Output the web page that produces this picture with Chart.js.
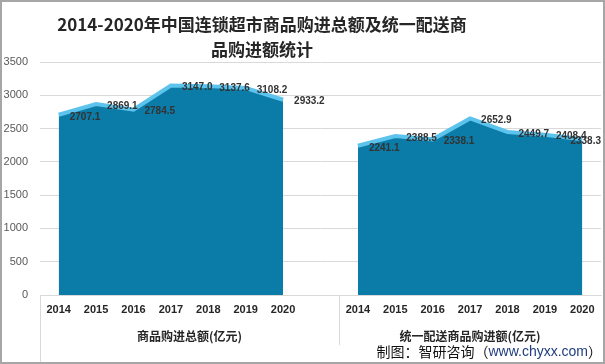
<!DOCTYPE html>
<html>
<head>
<meta charset="utf-8">
<script src="https://cdn.jsdelivr.net/npm/chart.js@4/dist/chart.umd.min.js"></script>
<style>
  html, body { margin: 0; padding: 0; background: #fff; }
  #box { width: 605px; height: 364px; position: relative; }
</style>
</head>
<body>
<div id="box"><canvas id="myChart" width="605" height="364"></canvas></div>
<script>
let years = ["2014", "2015", "2016", "2017", "2018", "2019", "2020"]
let totalPurchase = [2707.1, 2869.1, 2784.5, 3147.0, 3137.6, 3108.2, 2933.2]
let unifiedDelivery = [2241.1, 2388.5, 2338.1, 2652.9, 2449.7, 2408.4, 2338.3]
let groupNames = ["商品购进总额(亿元)", "统一配送商品购进额(亿元)"]
let yTicks = [0, 500, 1000, 1500, 2000, 2500, 3000, 3500]

// one blank category between the two groups
let labels = years.concat([""], years)
let blank = years.map(() => null)
let data1 = totalPurchase.concat([null], blank)
let data2 = blank.concat([null], unifiedDelivery)

let cjk = "'Noto Sans CJK SC', 'Noto Sans', sans-serif"
let latin = "'Liberation Sans', Arial, sans-serif"

let decor = {
  id: "decor",
  afterDraw(chart) {
    let c = chart.ctx
    let area = chart.chartArea
    let x = chart.scales.x
    c.save()

    // title
    c.fillStyle = "#262626"
    c.font = "bold 17px " + cjk
    c.textAlign = "center"
    c.textBaseline = "middle"
    c.fillText("2014-2020年中国连锁超市商品购进总额及统一配送商", 262, 25)
    c.fillText("品购进额统计", 262, 50)

    // category group dividers
    let step = x.getPixelForValue(1) - x.getPixelForValue(0)
    let mid = x.getPixelForValue(7) + step / 2
    c.strokeStyle = "#d9d9d9"
    c.lineWidth = 1
    c.beginPath()
    c.moveTo(area.left + 0.5, area.bottom)
    c.lineTo(area.left + 0.5, 364)
    c.moveTo(Math.round(mid) + 0.5, area.bottom)
    c.lineTo(Math.round(mid) + 0.5, 345)
    c.stroke()

    // group names
    c.fillStyle = "#262626"
    c.font = "bold 12px " + cjk
    c.fillText(groupNames[0], (area.left + mid) / 2, 336)
    c.fillText(groupNames[1], (mid + area.right) / 2, 336)

    // source note
    c.textAlign = "left"
    let a = "制图：智研咨询（"
    let b = "www.chyxx.com"
    let e = "）"
    c.font = "14px " + cjk
    let wa = c.measureText(a).width
    let we = c.measureText(e).width
    c.font = "14px " + latin
    let wb = c.measureText(b).width
    let sx = 602 - wa - wb - we
    c.font = "14px " + cjk
    c.fillStyle = "#111"
    c.fillText(a, sx, 352)
    c.font = "14px " + latin
    c.fillStyle = "#1f3b80"
    c.fillText(b, sx + wa, 352)
    c.font = "14px " + cjk
    c.fillStyle = "#111"
    c.fillText(e, sx + wa + wb, 352)

    // outer frame
    c.strokeStyle = "#a6a6a6"
    c.lineWidth = 2
    c.strokeRect(1, 1, 603, 362)
    c.restore()
  }
}

let valueLabels = {
  id: "valueLabels",
  afterDatasetsDraw(chart) {
    let c = chart.ctx
    c.save()
    c.font = "bold 10px " + latin
    c.fillStyle = "#333"
    c.textAlign = "left"
    c.textBaseline = "middle"
    chart.data.datasets.forEach((ds, i) => {
      chart.getDatasetMeta(i).data.forEach((pt, j) => {
        let v = ds.data[j]
        if (v == null) return
        let txt = v.toFixed(1)
        let w = c.measureText(txt).width
        let tx = Math.min(pt.x + 11, 601 - w)
        c.fillText(txt, tx, pt.y + 2)
      })
    })
    c.restore()
  }
}

let ctx = document.getElementById("myChart")
let myChart = new Chart(ctx, {
  type: "line",
  data: {
    labels: labels,
    datasets: [
      {
        data: data1,
        fill: "origin",
        backgroundColor: "#0b7ba7",
        borderColor: "#5cc3ec",
        borderWidth: 4,
        pointRadius: 0,
        tension: 0,
        spanGaps: false
      },
      {
        data: data2,
        fill: "origin",
        backgroundColor: "#0b7ba7",
        borderColor: "#5cc3ec",
        borderWidth: 4,
        pointRadius: 0,
        tension: 0,
        spanGaps: false
      }
    ]
  },
  options: {
    responsive: false,
    animation: false,
    layout: { padding: { top: 62, right: 4, left: 0, bottom: 0 } },
    plugins: {
      legend: { display: false },
      tooltip: { enabled: false }
    },
    scales: {
      x: {
        offset: true,
        grid: { display: false, drawTicks: false },
        border: { display: true, color: "#d9d9d9" },
        ticks: {
          autoSkip: false,
          maxRotation: 0,
          padding: 8,
          color: "#262626",
          font: { family: latin, size: 11, weight: "bold" }
        },
        afterFit(scale) { scale.height = 69 }
      },
      y: {
        min: 0,
        max: 3500,
        afterBuildTicks(scale) { scale.ticks = yTicks.map(v => ({ value: v })) },
        grid: { color: "#d9d9d9", drawTicks: false },
        border: { display: false },
        ticks: {
          padding: 12,
          color: "#595959",
          font: { family: latin, size: 11 },
          callback: (v) => String(v)
        },
        afterFit(scale) { scale.width = 40 }
      }
    }
  },
  plugins: [valueLabels, decor]
})
</script>
</body>
</html>
